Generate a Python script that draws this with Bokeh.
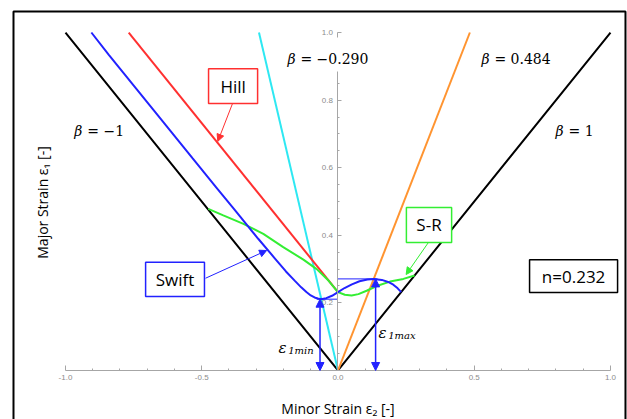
from math import pi

from bokeh.plotting import figure
from bokeh.models import (Range1d, LinearAxis, FixedTicker, PrintfTickFormatter,
                          Label, BoxAnnotation, Arrow, NormalHead)
from bokeh.embed import file_html
from bokeh.resources import INLINE

# ---- data -------------------------------------------------------------
n_value = 0.232

# strain-path rays eps2 = beta * eps1, drawn up to eps1 = 1
beta_left, beta_min, beta_max, beta_right = -1.0, -0.290, 0.484, 1.0

# Hill criterion: eps1 + eps2 = n (left side only)
hill_e2 = [n_value - 1.0, 0.0]
hill_e1 = [1.0, n_value]

# Swift diffuse-necking limit curve
swift_e2 = [-0.905, -0.841, -0.687, -0.534, -0.447, -0.382, -0.292, -0.232,
            -0.191, -0.159, -0.135, -0.116, -0.100, -0.086, -0.074, -0.063,
            -0.043, -0.022, 0.0, 0.024, 0.051, 0.079, 0.108, 0.131, 0.161,
            0.184, 0.203, 0.219, 0.232]
swift_e1 = [1.000, 0.934, 0.781, 0.628, 0.542, 0.478, 0.389, 0.332,
            0.293, 0.266, 0.246, 0.232, 0.222, 0.216, 0.213, 0.211,
            0.214, 0.221, 0.232, 0.244, 0.255, 0.264, 0.269, 0.271, 0.268,
            0.262, 0.254, 0.243, 0.232]

# Storen-Rice localized-necking limit curve
sr_e2 = [-0.476, -0.421, -0.347, -0.274, -0.201, -0.127, -0.078, -0.035,
         0.0, 0.025, 0.050, 0.075, 0.105, 0.142, 0.191, 0.240, 0.281]
sr_e1 = [0.478, 0.459, 0.434, 0.404, 0.365, 0.328, 0.300, 0.266,
         0.232, 0.224, 0.222, 0.226, 0.236, 0.250, 0.263, 0.271, 0.281]

# extreme points of the Swift curve
e1_min, e2_at_min = 0.211, -0.066
e1_max, e2_at_max = 0.271, 0.138

x_ticks = [-1.0, -0.5, 0.0, 0.5, 1.0]
x_minor = [-0.9, -0.8, -0.7, -0.6, -0.4, -0.3, -0.2, -0.1,
           0.1, 0.2, 0.3, 0.4, 0.6, 0.7, 0.8, 0.9]
y_ticks = [0.2, 0.4, 0.6, 0.8, 1.0]
y_minor = [0.05, 0.1, 0.15, 0.25, 0.3, 0.35, 0.45, 0.5, 0.55,
           0.65, 0.7, 0.75, 0.85, 0.9, 0.95]

# ---- figure -----------------------------------------------------------
p = figure(width=627, height=419,
           x_range=Range1d(-1.2385, 1.0624), y_range=Range1d(-0.1450, 1.0947),
           output_backend="svg", toolbar_location=None, title=None,
           x_axis_type=None, y_axis_type=None, min_border=0)
p.outline_line_color = None
p.background_fill_color = "white"

AXIS_GRAY = "#a6a6a6"
LABEL_GRAY = "#8c8c8c"

xaxis = LinearAxis(fixed_location=0, bounds=(-1.0, 1.0),
                   ticker=FixedTicker(ticks=x_ticks, minor_ticks=x_minor),
                   formatter=PrintfTickFormatter(format="%.1f"))
yaxis = LinearAxis(fixed_location=0, bounds=(0.0, 1.0),
                   ticker=FixedTicker(ticks=y_ticks, minor_ticks=y_minor),
                   formatter=PrintfTickFormatter(format="%.1f"))
for ax in (xaxis, yaxis):
    ax.axis_line_color = AXIS_GRAY
    ax.axis_line_width = 1
    ax.major_tick_line_color = AXIS_GRAY
    ax.minor_tick_line_color = AXIS_GRAY
    ax.major_label_text_color = LABEL_GRAY
    ax.major_label_text_font = "Liberation Sans"
    ax.major_label_text_font_size = "8px"
xaxis.major_tick_in, xaxis.major_tick_out = 5, 0
xaxis.minor_tick_in, xaxis.minor_tick_out = 2, 0
xaxis.major_label_standoff = 5
yaxis.major_tick_in, yaxis.major_tick_out = 4, 0
yaxis.minor_tick_in, yaxis.minor_tick_out = 2, 0
yaxis.major_label_standoff = 5
p.add_layout(xaxis, "below")
p.add_layout(yaxis, "left")

# outer frame of the figure
p.add_layout(BoxAnnotation(left=-1.1908, right=1.0550, top=1.0621, bottom=-0.6,
                           fill_alpha=0, line_color="black", line_alpha=1,
                           line_width=2))

# ---- curves -----------------------------------------------------------
LW = 2
p.line([beta_left * 1.0, 0.0, beta_right * 1.0], [1.0, 0.0, 1.0],
       line_color="black", line_width=LW)
p.line([beta_min * 1.0, 0.0], [1.0, 0.0], line_color="#2ee8f2", line_width=LW)
p.line([beta_max * 1.0, 0.0], [1.0, 0.0], line_color="#ff9430", line_width=LW)
p.line(hill_e2, hill_e1, line_color="#ff3030", line_width=LW)
p.line(sr_e2, sr_e1, line_color="#33ee33", line_width=LW)
p.line(swift_e2, swift_e1, line_color="#2222ff", line_width=LW)

BLUE = "#2222ff"
# guide lines to the extremes of the Swift curve
p.line([e2_at_min - 0.012, 0.0], [e1_min, e1_min], line_color=BLUE, line_width=1)
p.line([0.0, e2_at_max + 0.007], [e1_max, e1_max], line_color=BLUE, line_width=1)


def head(color, size=8):
    return NormalHead(size=size, fill_color=color, line_color=color)


for xe, ye in ((e2_at_min, e1_min), (e2_at_max, e1_max)):
    p.add_layout(Arrow(start=head(BLUE), end=head(BLUE),
                       x_start=xe, y_start=0.0, x_end=xe, y_end=ye,
                       line_color=BLUE, line_width=1.5))


# ---- text helpers -----------------------------------------------------
def text(x, y, s, size, font, style="normal", align="left", color="black",
         angle=0.0, bg=None):
    lab = Label(x=x, y=y, text=s, text_font=font, text_font_size=f"{size}px",
                text_font_style=style, text_align=align, text_baseline="middle",
                text_color=color, angle=angle)
    if bg is not None:
        lab.background_fill_color = bg
    p.add_layout(lab)


SERIF = "DejaVu Serif"
SANS = "Open Sans"


def beta_label(x, y, rhs):
    text(x, y, "β", 14, SERIF, style="italic", align="right")
    text(x + 0.018, y, "= " + rhs, 14, SERIF)


# the y axis is interrupted behind the beta = -0.290 label
p.add_layout(BoxAnnotation(left=-0.012, right=0.012, top=0.985, bottom=0.885,
                           fill_color="white", fill_alpha=1, line_alpha=0))

beta_label(-0.938, 0.710, "−1")
beta_label(-0.156, 0.923, "−0.290")
beta_label(0.556, 0.923, "0.484")
beta_label(0.828, 0.710, "1")


def boxed(left, right, top, bottom, s, color, arrow=None):
    p.add_layout(BoxAnnotation(left=left, right=right, top=top, bottom=bottom,
                               fill_color="white", fill_alpha=1,
                               line_color=color, line_alpha=1, line_width=1.5))
    text((left + right) / 2, (top + bottom) / 2, s, 17, SANS, align="center")
    if arrow is not None:
        (x0, y0), (x1, y1) = arrow
        p.add_layout(Arrow(end=head(color, 7), x_start=x0, y_start=y0,
                           x_end=x1, y_end=y1, line_color=color, line_width=1))


boxed(-0.475, -0.295, 0.893, 0.790, "Hill", "#ff3030",
      arrow=((-0.387, 0.790), (-0.441, 0.678)))
boxed(-0.706, -0.490, 0.320, 0.219, "Swift", BLUE,
      arrow=((-0.486, 0.273), (-0.262, 0.355)))
boxed(0.251, 0.417, 0.482, 0.379, "S-R", "#33ee33",
      arrow=((0.332, 0.379), (0.250, 0.284)))
boxed(0.703, 1.026, 0.328, 0.231, "n=0.232", "black")

# epsilon annotations of the two extremes
text(-0.218, 0.068, "ε", 15, SERIF, style="italic")
text(-0.183, 0.060, "1min", 10, SERIF, style="italic")
text(0.149, 0.112, "ε", 15, SERIF, style="italic")
text(0.184, 0.104, "1max", 10, SERIF, style="italic")

# axis titles
text(-1.086, 0.497, "Major Strain ε₁ [-]", 14, SANS, align="center", angle=pi / 2)
text(0.0, -0.112, "Minor Strain ε₂ [-]", 14, SANS, align="center")

open("out.html", "w").write(file_html(p, INLINE))
